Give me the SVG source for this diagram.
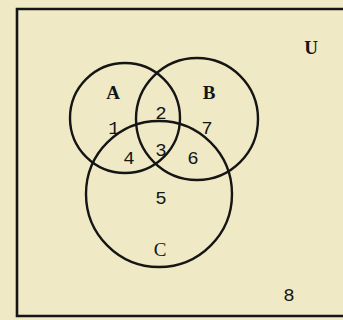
<svg xmlns="http://www.w3.org/2000/svg" width="343" height="320" viewBox="0 0 343 320">
<style>
.set{fill:none;stroke:#151515;stroke-width:2.4}
.lbl{font-family:"Liberation Mono","DejaVu Sans Mono",monospace;font-size:19px;fill:#151515;text-anchor:middle}
.let{font-family:"Liberation Serif","DejaVu Serif",serif;font-size:19px;fill:#151515;text-anchor:middle;font-weight:bold}
.reg{font-weight:normal}
</style>
<rect x="0" y="0" width="343" height="320" fill="#efeac5"/>
<g id="frame">
<path d="M345 9 H17 V316 H343" fill="none" stroke="#151515" stroke-width="2.6"/>
</g>
<g id="set-A"><circle class="set" cx="125" cy="118" r="55"/><text class="let" x="113" y="99">A</text></g>
<g id="set-B"><circle class="set" cx="197" cy="119" r="61"/><text class="let" x="209" y="99">B</text></g>
<g id="set-C"><circle class="set" cx="159" cy="194" r="73"/><text class="let reg" x="160" y="256">C</text></g>
<g id="universe"><text class="let" x="311" y="54">U</text></g>
<g id="regions">
<text class="lbl" x="114" y="134">1</text>
<text class="lbl" x="161" y="119">2</text>
<text class="lbl" x="161" y="156">3</text>
<text class="lbl" x="129" y="164">4</text>
<text class="lbl" x="161" y="204">5</text>
<text class="lbl" x="193" y="164">6</text>
<text class="lbl" x="207" y="134">7</text>
<text class="lbl" x="289" y="301">8</text>
</g>
</svg>
